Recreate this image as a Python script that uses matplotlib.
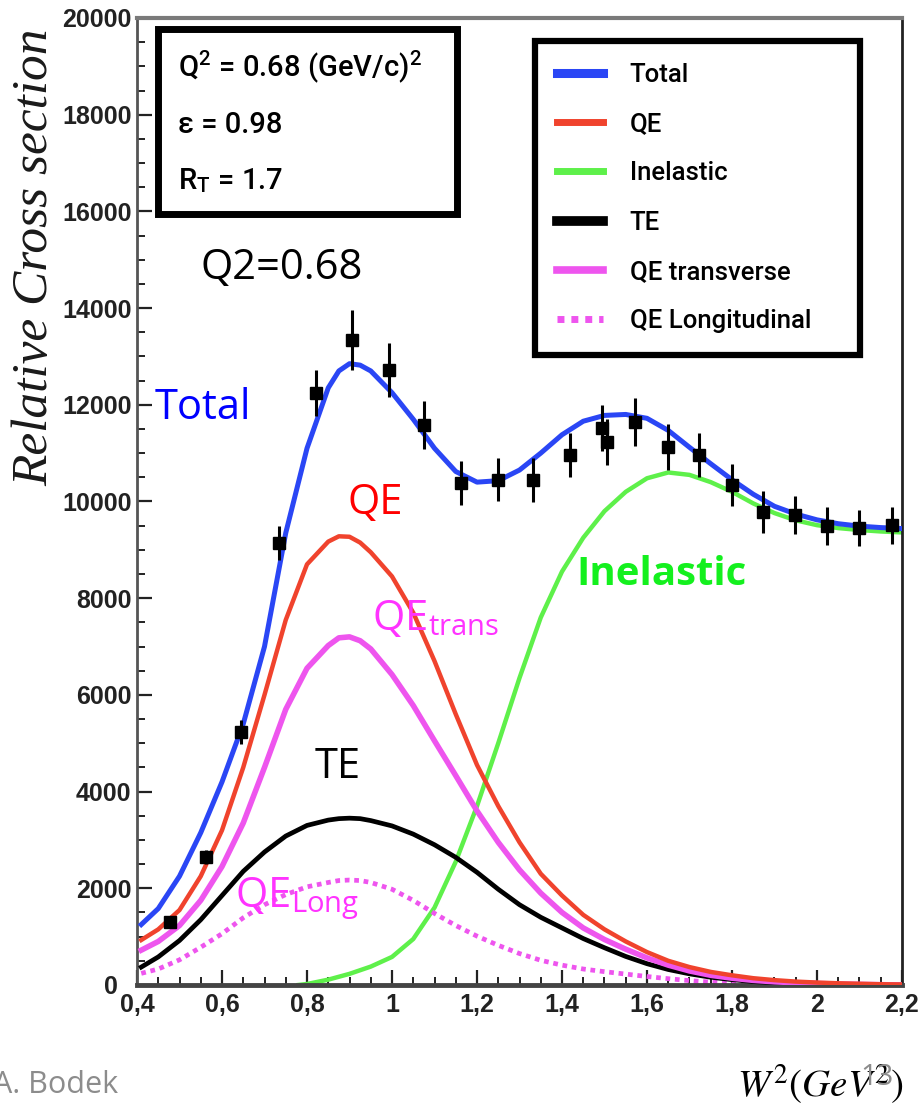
import matplotlib
matplotlib.use('Agg')
import matplotlib.pyplot as plt
from matplotlib.patches import Rectangle
from matplotlib.ticker import MultipleLocator

# W^2 grid (GeV^2) for the model curves
w2 = [0.41, 0.45, 0.50, 0.55, 0.60, 0.65, 0.70, 0.75, 0.80, 0.85, 0.875, 0.90, 0.925, 0.95,
      1.00, 1.05, 1.10, 1.15, 1.20, 1.25, 1.30, 1.35, 1.40, 1.45, 1.50, 1.55,
      1.60, 1.65, 1.70, 1.75, 1.80, 1.85, 1.90, 1.95, 2.00, 2.05, 2.10, 2.15, 2.20]
total = [1250, 1580, 2250, 3150, 4200, 5400, 7000, 9350, 11100, 12350, 12700, 12850, 12820, 12700,
         12250, 11700, 11100, 10620, 10400, 10430, 10650, 11000, 11380, 11660, 11780, 11800,
         11720, 11470, 11120, 10780, 10450, 10150, 9900, 9740, 9620, 9540, 9490, 9460, 9440]
qe = [930, 1150, 1550, 2250, 3200, 4500, 6000, 7550, 8700, 9170, 9280, 9270, 9150, 8950,
      8450, 7700, 6700, 5600, 4550, 3700, 2950, 2300, 1850, 1450, 1150, 900,
      680, 500, 370, 270, 200, 140, 100, 70, 50, 35, 25, 15, 10]
qe_trans = [720, 900, 1230, 1750, 2450, 3350, 4500, 5700, 6550, 7020, 7180, 7200, 7120, 6950,
            6420, 5780, 5050, 4330, 3600, 2950, 2380, 1900, 1500, 1180, 940, 740,
            560, 410, 290, 200, 140, 95, 65, 45, 30, 20, 12, 6, 0]
qe_long = [240, 330, 520, 780, 1060, 1390, 1660, 1870, 2030, 2120, 2160, 2170, 2160, 2120,
           1980, 1750, 1480, 1230, 1010, 820, 650, 510, 410, 330, 275, 225,
           175, 130, 90, 60, 40, 25, 15, 8, 4, 2, 0, 0, 0]
te = [370, 580, 920, 1350, 1850, 2350, 2750, 3080, 3300, 3410, 3440, 3450, 3440, 3400,
      3290, 3120, 2900, 2640, 2330, 1980, 1660, 1400, 1180, 960, 770, 590,
      440, 320, 230, 160, 110, 70, 45, 28, 16, 9, 4, 2, 0]
w2_inel = [0.78, 0.80, 0.85, 0.90, 0.95, 1.00, 1.05, 1.10, 1.15, 1.20, 1.25, 1.30,
           1.35, 1.40, 1.45, 1.50, 1.55, 1.60, 1.65, 1.70, 1.75, 1.80, 1.85, 1.90,
           1.95, 2.00, 2.05, 2.10, 2.15, 2.20]
inelastic = [0, 20, 110, 230, 380, 580, 950, 1600, 2550, 3700, 5000, 6350,
             7600, 8550, 9250, 9800, 10200, 10480, 10600, 10550, 10400, 10200, 9960, 9760,
             9610, 9510, 9450, 9410, 9380, 9360]

# measured points
w2_data = [0.478, 0.562, 0.645, 0.734, 0.821, 0.906, 0.993, 1.075, 1.162, 1.249, 1.332, 1.419,
           1.494, 1.506, 1.572, 1.649, 1.722, 1.800, 1.873, 1.948, 2.024, 2.099, 2.176]
xsec_data = [1300, 2650, 5230, 9140, 12240, 13330, 12720, 11580, 10380, 10450, 10440, 10960,
             11520, 11230, 11640, 11130, 10960, 10340, 9780, 9720, 9490, 9450, 9510]
xsec_err = [120, 150, 250, 350, 480, 620, 560, 500, 450, 450, 450, 450,
            480, 480, 490, 470, 460, 440, 430, 400, 390, 380, 380]

xtick_vals = [0.4, 0.6, 0.8, 1.0, 1.2, 1.4, 1.6, 1.8, 2.0, 2.2]
xtick_labels = ['0,4', '0,6', '0,8', '1', '1,2', '1,4', '1,6', '1,8', '2', '2,2']
ytick_vals = [0, 2000, 4000, 6000, 8000, 10000, 12000, 14000, 16000, 18000, 20000]
ytick_labels = ['0  ', '2000', '4000', '6000', '8000', '10000', '12000', '14000',
                '16000', '18000', '20000']

plt.rcParams['mathtext.fontset'] = 'stix'

fig = plt.figure(figsize=(9.22, 11.17), dpi=100)
ax = fig.add_axes([0.1486, 0.1182, 0.8297, 0.8657])

l_inel, = ax.plot(w2_inel, inelastic, color='#5ef04a', lw=3.2, label='Inelastic', zorder=2)
l_long, = ax.plot(w2, qe_long, color='#ee55ee', lw=3.4, ls=(0, (1, 1)), label='QE Longitudinal', zorder=2)
l_te, = ax.plot(w2, te, color='black', lw=3.4, label='TE', zorder=3)
l_trans, = ax.plot(w2, qe_trans, color='#ee55ee', lw=4.0, label='QE transverse', zorder=3)
l_qe, = ax.plot(w2, qe, color='#f0432d', lw=3.2, label='QE', zorder=3)
l_tot, = ax.plot(w2, total, color='#2a46f5', lw=3.6, label='Total', zorder=4)
ax.errorbar(w2_data, xsec_data, yerr=xsec_err, fmt='s', color='black', ms=8.5,
            elinewidth=2.2, capsize=0, zorder=5)

ax.set_xlim(0.4, 2.2)
ax.set_ylim(0, 20000)
ax.set_xticks(xtick_vals, xtick_labels, fontsize=18, fontweight='bold', fontfamily='Liberation Sans')
ax.set_yticks(ytick_vals, ytick_labels, fontsize=18, fontweight='bold', fontfamily='Liberation Sans')
ax.xaxis.set_minor_locator(MultipleLocator(0.05))
ax.yaxis.set_minor_locator(MultipleLocator(500))
ax.tick_params(which='both', direction='in', top=False, right=False, colors='#222222')
ax.tick_params(which='major', length=11, width=1.6)
ax.tick_params(which='minor', length=5.5, width=1.4)
ax.tick_params(axis='x', pad=6)
ax.tick_params(axis='y', pad=4)

ax.spines['top'].set_color('#7a7a7a')
ax.spines['top'].set_linewidth(3)
ax.spines['left'].set_color('#555555')
ax.spines['left'].set_linewidth(2)
ax.spines['bottom'].set_color('#444444')
ax.spines['bottom'].set_linewidth(3.5)
ax.spines['right'].set_color('#222222')
ax.spines['right'].set_linewidth(2)

# parameter box
ax.add_patch(Rectangle((0.028, 0.797), 0.39, 0.192, transform=ax.transAxes,
                       facecolor='white', edgecolor='black', lw=5, zorder=6))
box_font = dict(transform=ax.transAxes, fontfamily='Roboto', fontweight='medium',
                fontsize=21, va='center', ha='left', zorder=7)
ax.text(0.0536, 0.948, r'Q$^\mathregular{2}$ = 0.68 (GeV/c)$^\mathregular{2}$', **box_font)
ax.text(0.0536, 0.889, 'ε = 0.98', **box_font)
ax.text(0.0536, 0.832, r'R$_\mathregular{T}$ = 1.7', **box_font)

leg = ax.legend(handles=[l_tot, l_qe, l_inel, l_te, l_trans, l_long],
                loc='upper left', bbox_to_anchor=(0.520, 0.643, 0.425, 0.333), mode='expand',
                borderaxespad=0, fancybox=False, framealpha=1, edgecolor='black',
                prop={'family': 'Roboto', 'weight': 'medium', 'size': 18.5},
                handlelength=1.8, handletextpad=1.05, labelspacing=0.98, borderpad=0.85)
leg.get_frame().set_linewidth(4.5)
leg.set_zorder(8)
for h, lw in zip(leg.legend_handles, [6.5, 5, 5, 7, 5.5, 5]):
    h.set_linewidth(lw)

# curve labels
ann = dict(fontfamily='Open Sans', fontsize=30, zorder=6)
ax.text(0.741, 14830, 'Q2=0.68', color='black', ha='center', va='center', **ann)
ax.text(0.555, 11930, 'Total', color='#0000ff', ha='center', va='center', **ann)
ax.text(0.960, 9970, 'QE', color='#ff0000', ha='center', va='center', **ann)
ax.text(0.952, 7570, r'QE$_\mathregular{trans}$', color='#ff33ff', ha='left', va='center', **ann)
ax.text(0.873, 4510, 'TE', color='black', ha='center', va='center', **ann)
ax.text(0.631, 1780, r'QE$_\mathregular{Long}$', color='#ff33ff', ha='left', va='center', **ann)
ax.text(1.635, 8500, 'Inelastic', color='#14f01e', ha='center', va='center',
        fontweight='bold', fontfamily='Open Sans', fontsize=29, zorder=6)

ax.text(-0.133, 0.753, 'Relative Cross section', rotation=90, transform=ax.transAxes,
        fontfamily='Liberation Serif', style='italic', fontsize=37, color='#1a1a1a',
        ha='center', va='center')

fig.text(0.980, 0.029, r'$W^2(GeV^2)$', fontsize=28, color='black', ha='right', va='center')
fig.text(0.951, 0.035, '13', fontfamily='Open Sans', fontsize=21, color='#8c8c8c',
         ha='center', va='center')
fig.text(-0.008, 0.029, 'A. Bodek', fontfamily='Open Sans', fontsize=22, color='#8c8c8c',
         ha='left', va='center')

fig.savefig('out.png', dpi=100)
